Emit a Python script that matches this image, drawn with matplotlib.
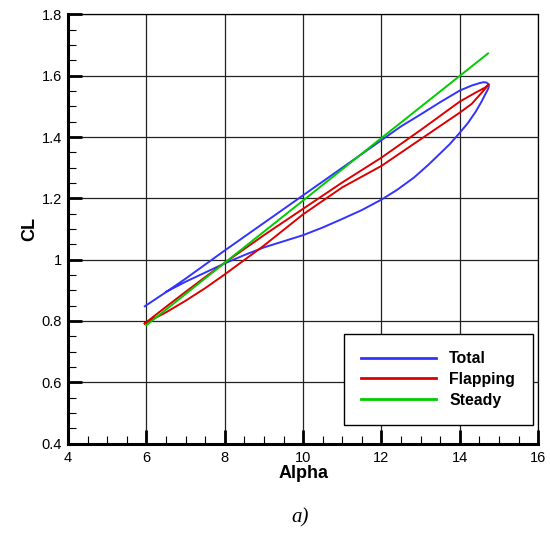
import numpy as np
import matplotlib.pyplot as plt
from matplotlib.ticker import MultipleLocator

# Steady (straight line)
steady_alpha = [6.0, 8.0, 10.0, 12.0, 14.0, 14.72]
steady_cl = [0.786, 0.990, 1.193, 1.397, 1.600, 1.673]

# Flapping: thin closed loop (upper branch out, lower branch back)
flap_alpha = [5.96, 6.5, 7.0, 7.5, 8.0, 9.0, 10.0, 11.0, 12.0, 13.0, 14.0, 14.4, 14.65, 14.74,
              14.6, 14.3, 14.0, 13.0, 12.0, 11.0, 10.0, 9.0, 8.0, 7.5, 7.0, 6.5, 5.96]
flap_cl = [0.792, 0.846, 0.895, 0.943, 0.990, 1.080, 1.166, 1.252, 1.333, 1.423, 1.516, 1.545, 1.562, 1.572,
           1.551, 1.508, 1.480, 1.393, 1.306, 1.236, 1.148, 1.046, 0.952, 0.907, 0.866, 0.828, 0.792]

# Total: upper branch up to the tip, lower branch back
total_alpha = [5.96, 6.5, 7.0, 8.0, 9.0, 10.0, 11.0, 12.0, 12.5, 13.0, 13.5, 14.0, 14.3, 14.5, 14.6, 14.68,
               14.72, 14.74, 14.73, 14.7, 14.65, 14.55, 14.4, 14.2, 13.97, 13.75, 13.5, 13.2, 12.83, 12.4,
               12.0, 11.5, 11.0, 10.5, 10.0, 9.5, 9.0, 8.5, 8.0, 7.5, 7.0, 6.7, 6.5]
total_cl = [0.848, 0.894, 0.938, 1.030, 1.120, 1.210, 1.300, 1.390, 1.435, 1.474, 1.514, 1.552, 1.568, 1.576, 1.579, 1.578,
            1.574, 1.568, 1.560, 1.552, 1.540, 1.515, 1.482, 1.445, 1.410, 1.378, 1.347, 1.310, 1.268, 1.228,
            1.196, 1.162, 1.133, 1.105, 1.080, 1.060, 1.040, 1.015, 0.988, 0.958, 0.928, 0.908, 0.895]

plt.rcParams['font.family'] = ['Liberation Sans', 'DejaVu Sans']

fig = plt.figure(figsize=(5.5, 5.34), dpi=100)
ax = fig.add_axes([0.1236, 0.1693, 0.855, 0.8036])

ax.plot(total_alpha, total_cl, color='#3333ff', lw=1.4, label='Total')
ax.plot(flap_alpha, flap_cl, color='#dd0000', lw=1.4, label='Flapping')
ax.plot(steady_alpha, steady_cl, color='#00cc00', lw=1.4, label='Steady')

ax.set_xlim(4, 16)
ax.set_ylim(0.4, 1.8)
ax.xaxis.set_major_locator(MultipleLocator(2))
ax.xaxis.set_minor_locator(MultipleLocator(0.5))
ax.yaxis.set_major_locator(MultipleLocator(0.2))
ax.yaxis.set_minor_locator(MultipleLocator(0.05))
ax.xaxis.set_major_formatter(plt.FuncFormatter(lambda v, p: f'{v:g}'))
ax.yaxis.set_major_formatter(plt.FuncFormatter(lambda v, p: f'{v:g}'))

ax.grid(True, which='major', color='#222222', lw=0.9)
ax.tick_params(which='major', direction='in', length=10, width=2, labelsize=10.5)
ax.tick_params(axis='x', which='major', pad=5.5)
ax.tick_params(axis='y', which='major', pad=4.5)
ax.tick_params(which='minor', direction='in', length=6, width=0.8)
ax.tick_params(top=False, right=False)
for s in ['left', 'bottom']:
    ax.spines[s].set_linewidth(2.2)
for s in ['top', 'right']:
    ax.spines[s].set_linewidth(0.9)

ax.set_xlabel('Alpha', fontsize=13, fontweight='bold', labelpad=0)
ax.set_ylabel('CL', fontsize=13, fontweight='bold', labelpad=2)

leg = ax.legend(loc='lower right', bbox_to_anchor=(0.988, 0.043),
                prop={'weight': 'bold', 'size': 11.4}, frameon=True, fancybox=False,
                edgecolor='black', framealpha=1, borderpad=1.1, labelspacing=0.36,
                handlelength=4.7, handletextpad=0.85, borderaxespad=0)
leg.get_frame().set_linewidth(1.0)
for line in leg.get_lines():
    line.set_linewidth(2)

fig.text(0.545, 0.03, 'a)', fontsize=15, style='italic', family='Liberation Serif',
         ha='center', va='center')

fig.savefig('out.png', dpi=100)
